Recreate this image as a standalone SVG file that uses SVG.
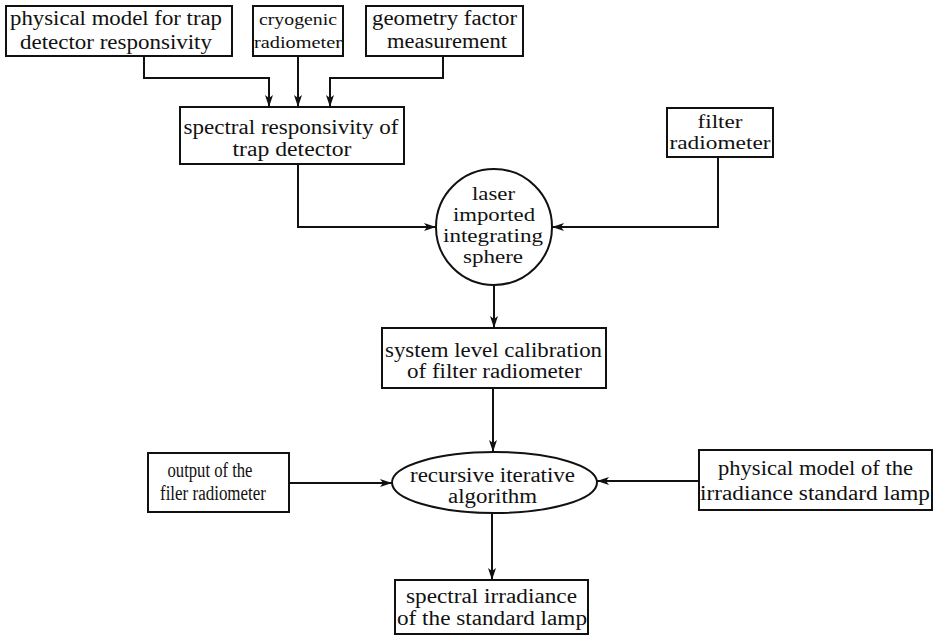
<svg xmlns="http://www.w3.org/2000/svg" width="934" height="635" viewBox="0 0 934 635">
<defs>
<marker id="ah" viewBox="0 0 12 8" refX="12" refY="4" markerWidth="12" markerHeight="8" markerUnits="userSpaceOnUse" orient="auto">
<path d="M0,0 L12,4 L0,8 L3,4 Z" fill="#111"/>
</marker>
</defs>
<style>
.box{fill:#fff;stroke:#111;stroke-width:2}
.t{fill:#111;text-anchor:middle}
.c{fill:none;stroke:#111;stroke-width:2;marker-end:url(#ah)}
</style>
<rect width="934" height="635" fill="#fff"/>
<g id="connectors">
<path class="c" d="M144 56 V78 H269 V107"/>
<path class="c" d="M298 56 V107"/>
<path class="c" d="M443 56 V78 H330 V107"/>
<path class="c" d="M298 164 V227 H436"/>
<path class="c" d="M718 157 V227 H552"/>
<path class="c" d="M494 285 V328"/>
<path class="c" d="M493 388 V452"/>
<path class="c" d="M289 483 H392"/>
<path class="c" d="M699 481 H597"/>
<path class="c" d="M492 513 V580"/>
</g>
<g font-family="'Liberation Serif', 'Times New Roman', 'DejaVu Serif', serif">
<g id="n1">
<rect class="box" x="6" y="6" width="226" height="50"/>
<text class="t" font-size="20"><tspan x="116" y="25" textLength="212" lengthAdjust="spacingAndGlyphs">physical model for trap</tspan><tspan x="116" y="49" textLength="192" lengthAdjust="spacingAndGlyphs">detector responsivity</tspan></text>
</g>
<g id="n2">
<rect class="box" x="253" y="6" width="90" height="50"/>
<text class="t" font-size="16"><tspan x="298" y="25" textLength="78" lengthAdjust="spacingAndGlyphs">cryogenic</tspan><tspan x="298" y="48" textLength="88" lengthAdjust="spacingAndGlyphs">radiometer</tspan></text>
</g>
<g id="n3">
<rect class="box" x="366" y="6" width="157" height="50"/>
<text class="t" font-size="20"><tspan x="444.5" y="25" textLength="145" lengthAdjust="spacingAndGlyphs">geometry factor</tspan><tspan x="447" y="48" textLength="120" lengthAdjust="spacingAndGlyphs">measurement</tspan></text>
</g>
<g id="n4">
<rect class="box" x="180" y="107" width="224" height="57"/>
<text class="t" font-size="20"><tspan x="291" y="134" textLength="215" lengthAdjust="spacingAndGlyphs">spectral responsivity of</tspan><tspan x="292" y="156" textLength="119" lengthAdjust="spacingAndGlyphs">trap detector</tspan></text>
</g>
<g id="n5">
<rect class="box" x="667" y="108" width="106" height="49"/>
<text class="t" font-size="19"><tspan x="720" y="128" textLength="45" lengthAdjust="spacingAndGlyphs">filter</tspan><tspan x="720" y="149" textLength="101" lengthAdjust="spacingAndGlyphs">radiometer</tspan></text>
</g>
<g id="n6">
<circle class="box" cx="494" cy="227" r="58"/>
<text class="t" font-size="19"><tspan x="493.5" y="200" textLength="43" lengthAdjust="spacingAndGlyphs">laser</tspan><tspan x="494" y="221" textLength="82" lengthAdjust="spacingAndGlyphs">imported</tspan><tspan x="493" y="242" textLength="100" lengthAdjust="spacingAndGlyphs">integrating</tspan><tspan x="493" y="263" textLength="60" lengthAdjust="spacingAndGlyphs">sphere</tspan></text>
</g>
<g id="n7">
<rect class="box" x="382" y="328" width="224" height="60"/>
<text class="t" font-size="20"><tspan x="493.5" y="357" textLength="217" lengthAdjust="spacingAndGlyphs">system level calibration</tspan><tspan x="494.5" y="378" textLength="175" lengthAdjust="spacingAndGlyphs">of filter radiometer</tspan></text>
</g>
<g id="n8">
<ellipse class="box" cx="494.5" cy="482.5" rx="102.5" ry="30.5"/>
<text class="t" font-size="20"><tspan x="492.5" y="482" textLength="165" lengthAdjust="spacingAndGlyphs">recursive iterative</tspan><tspan x="492.5" y="503" textLength="89" lengthAdjust="spacingAndGlyphs">algorithm</tspan></text>
</g>
<g id="n9">
<rect class="box" x="148" y="453" width="141" height="59"/>
<text class="t" font-size="20"><tspan x="210" y="477" textLength="85" lengthAdjust="spacingAndGlyphs">output of the</tspan><tspan x="213" y="500" textLength="106" lengthAdjust="spacingAndGlyphs">filer radiometer</tspan></text>
</g>
<g id="n10">
<rect class="box" x="699" y="450" width="233" height="60"/>
<text class="t" font-size="20"><tspan x="815.5" y="475" textLength="195" lengthAdjust="spacingAndGlyphs">physical model of the</tspan><tspan x="815" y="500" textLength="230" lengthAdjust="spacingAndGlyphs">irradiance standard lamp</tspan></text>
</g>
<g id="n11">
<rect class="box" x="395" y="580" width="193" height="54"/>
<text class="t" font-size="20"><tspan x="491.5" y="603" textLength="171" lengthAdjust="spacingAndGlyphs">spectral irradiance</tspan><tspan x="492" y="625" textLength="190" lengthAdjust="spacingAndGlyphs">of the standard lamp</tspan></text>
</g>
</g>
</svg>
